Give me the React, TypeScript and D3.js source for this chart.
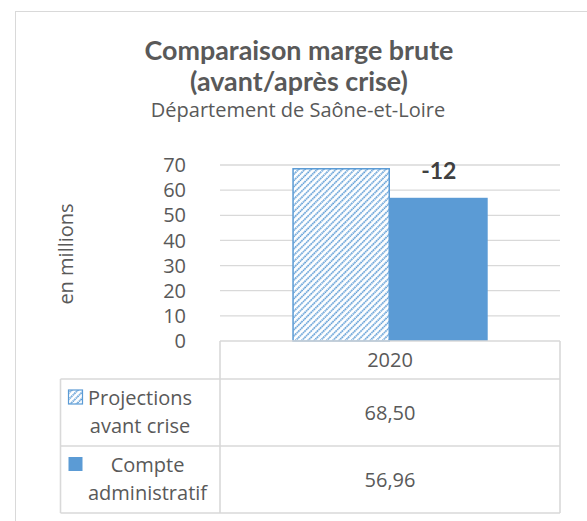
import React from "react";
import * as d3 from "d3";

const categories = ["2020"];
const seriesNames = [
  ["Projections", "avant crise"],
  ["Compte", "administratif"],
];
const seriesValues = [68.5, 56.96];
const valueLabels = ["68,50", "56,96"];
const yTicks = [0, 10, 20, 30, 40, 50, 60, 70];
const diffLabel = "-12";
const titleLines = ["Comparaison marge brute", "(avant/après crise)"];
const subtitle = "Département de Saône-et-Loire";
const yAxisTitle = "en millions";

const W = 587;
const H = 521;
const FONT = "'Open Sans', Lato, sans-serif";
const TFONT = "Lato, 'Open Sans', sans-serif";
const TEXT = "#595959";
const GRID = "#d9d9d9";
const BLUE = "#5b9bd5";

function measure(text: string, font: string): number {
  const c = document.createElement("canvas").getContext("2d");
  if (!c) return text.length * 10;
  c.font = font;
  return c.measureText(text).width;
}

export default function App() {
  const plotLeft = 220;
  const plotRight = 560;
  const y = d3.scaleLinear().domain([0, 70]).range([341, 165]);
  const x = d3
    .scaleBand<string>()
    .domain(categories)
    .range([plotLeft, plotRight])
    .paddingInner(0)
    .paddingOuter(0.37);
  const xs = d3
    .scaleBand<number>()
    .domain(d3.range(seriesValues.length))
    .range([0, x.bandwidth()]);

  const tableTop = y(0);
  const catRowBottom = 379;
  const rowH = 67;
  const legendLeft = 60.5;
  const tableBottom = catRowBottom + rowH * seriesValues.length;

  const legendTextLeft = 88;
  const legendFont = `20px ${FONT}`;

  // fit title size to the reference width of its first line
  const tw = measure(titleLines[0], `bold 100px ${TFONT}`);
  const titleSize = Math.min(30, Math.max(20, (309 / tw) * 100));

  return (
    <svg
      width={W}
      height={H}
      style={{ position: "absolute", left: 0, top: 0, background: "#fff" }}
      fontFamily={FONT}
    >
      <defs>
        <pattern
          id="hatch"
          patternUnits="userSpaceOnUse"
          width={4.4}
          height={4.4}
          patternTransform="rotate(45)"
        >
          <rect width={4.4} height={4.4} fill="#fff" />
          <line x1={1} y1={0} x2={1} y2={4.4} stroke={BLUE} strokeWidth={1.7} strokeDasharray="1.6 0.6" />
        </pattern>
      </defs>
      <rect x={0} y={0} width={W} height={H} fill="#fff" />
      <rect x={15.5} y={11.5} width={W + 20} height={H + 20} fill="none" stroke={GRID} strokeWidth={1} />

      {/* titles */}
      {titleLines.map((t, i) => (
        <text
          key={t}
          x={299}
          y={60 + i * 31}
          textAnchor="middle"
          fontWeight="bold"
          fontFamily={TFONT}
          fontSize={titleSize}
          fill={TEXT}
        >
          {t}
        </text>
      ))}
      <text x={298} y={117} textAnchor="middle" fontSize={20} fill={TEXT}>
        {subtitle}
      </text>

      {/* gridlines */}
      {yTicks
        .filter((t) => t !== 0)
        .map((t) => (
          <line
            key={t}
            x1={plotLeft}
            x2={plotRight}
            y1={y(t)}
            y2={y(t)}
            stroke={GRID}
            strokeWidth={1.3}
          />
        ))}
      {yTicks.map((t) => (
        <text
          key={t}
          x={186}
          y={y(t)}
          dy="0.36em"
          textAnchor="end"
          fontSize={20}
          fill={TEXT}
        >
          {t}
        </text>
      ))}
      <text
        transform={`translate(66,${y(35) + 1}) rotate(-90)`}
        textAnchor="middle"
        dy="0.36em"
        fontSize={20}
        fill={TEXT}
      >
        {yAxisTitle}
      </text>

      {/* bars */}
      {categories.map((c) =>
        seriesValues.map((v, i) => {
          const bx = (x(c) ?? 0) + (xs(i) ?? 0);
          const bw = xs.bandwidth();
          return i === 0 ? (
            <rect
              key={`${c}-${i}`}
              x={bx + 0.75}
              y={y(v)}
              width={bw - 1.5}
              height={y(0) - y(v)}
              fill="url(#hatch)"
              stroke={BLUE}
              strokeWidth={1.5}
            />
          ) : (
            <rect
              key={`${c}-${i}`}
              x={bx}
              y={y(v)}
              width={bw}
              height={y(0) - y(v)}
              fill={BLUE}
            />
          );
        })
      )}
      {categories.map((c) => (
        <text
          key={`diff-${c}`}
          x={(x(c) ?? 0) + (xs(1) ?? 0) + xs.bandwidth() / 2}
          y={179}
          textAnchor="middle"
          fontWeight="bold"
          fontFamily={TFONT}
          fontSize={23}
          fill="#404040"
        >
          {diffLabel}
        </text>
      ))}

      {/* data table */}
      <g stroke={GRID} strokeWidth={1.6} fill="none">
        <line x1={plotLeft} x2={plotRight} y1={tableTop} y2={tableTop} />
        <line x1={plotLeft} x2={plotLeft} y1={tableTop} y2={tableBottom} />
        <line x1={plotRight} x2={plotRight} y1={tableTop} y2={tableBottom} />
        <line x1={legendLeft} x2={legendLeft} y1={catRowBottom} y2={tableBottom} />
        {d3.range(seriesValues.length + 1).map((k) => (
          <line
            key={k}
            x1={legendLeft}
            x2={plotRight}
            y1={catRowBottom + k * rowH}
            y2={catRowBottom + k * rowH}
          />
        ))}
      </g>
      {categories.map((c) => (
        <text
          key={`cat-${c}`}
          x={(x(c) ?? 0) + x.bandwidth() / 2}
          y={366.5}
          textAnchor="middle"
          fontSize={20}
          fill={TEXT}
        >
          {c}
        </text>
      ))}
      {valueLabels.map((v, i) => (
        <text
          key={v}
          x={(plotLeft + plotRight) / 2}
          y={catRowBottom + i * rowH + rowH / 2 + 7.5}
          textAnchor="middle"
          fontSize={20}
          fill={TEXT}
        >
          {v}
        </text>
      ))}
      {seriesNames.map((lines, i) => {
        const top = catRowBottom + i * rowH;
        const blockW = Math.max(...lines.map((l) => measure(l, legendFont)));
        const cx = legendTextLeft + blockW / 2;
        const iconY = top + 11;
        return (
          <g key={i}>
            <rect
              x={68.5}
              y={iconY}
              width={14}
              height={14}
              fill={i === 0 ? "url(#hatch)" : BLUE}
              stroke={i === 0 ? BLUE : "none"}
              strokeWidth={1.2}
            />
            {lines.map((l, j) => (
              <text
                key={l}
                x={cx}
                y={top + 26 + j * 28}
                textAnchor="middle"
                fontSize={20}
                fill={TEXT}
              >
                {l}
              </text>
            ))}
          </g>
        );
      })}
    </svg>
  );
}
